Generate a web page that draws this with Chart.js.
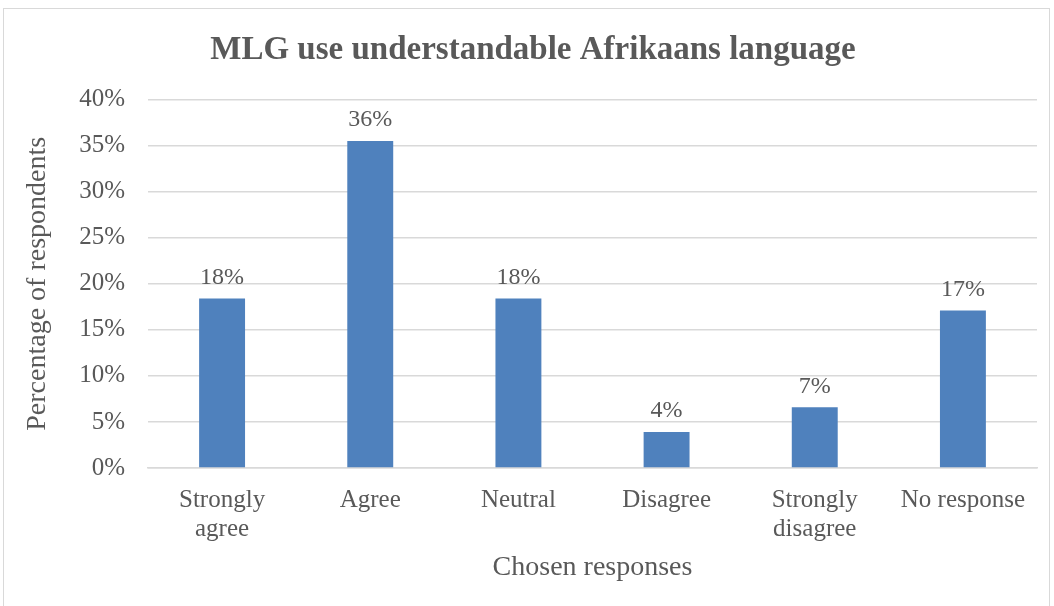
<!DOCTYPE html>
<html lang="en">
<head>
<meta charset="utf-8">
<title>MLG use understandable Afrikaans language</title>
<script src="https://cdn.jsdelivr.net/npm/chart.js@4.4.1/dist/chart.umd.min.js"></script>
<style>
  html, body { margin: 0; padding: 0; background: #fff; }
  .frame {
    position: absolute; left: 3px; top: 8px;
    width: 1047px; height: 600px;
    border: 1px solid #d9d9d9; box-sizing: border-box;
  }
  .frame canvas { display: block; }
</style>
</head>
<body>
<div class="frame"><canvas id="chart"></canvas></div>
<script>
// survey answers, share of respondents (%)
const categories = [["Strongly", "agree"], "Agree", "Neutral", "Disagree", ["Strongly", "disagree"], "No response"];
const shares = [18.4, 35.5, 18.4, 3.9, 6.6, 17.1];
const yTicks = [0, 5, 10, 15, 20, 25, 30, 35, 40];

const serif = "'Liberation Serif', 'DejaVu Serif', serif";
const grey = '#595959';

// writes the rounded value above each bar
const barLabels = {
  id: 'barLabels',
  afterDatasetsDraw(chart) {
    const ctx = chart.ctx;
    const meta = chart.getDatasetMeta(0);
    ctx.save();
    ctx.font = '24px ' + serif;
    ctx.fillStyle = grey;
    ctx.textAlign = 'center';
    ctx.textBaseline = 'bottom';
    meta.data.forEach((bar, i) => {
      ctx.fillText(Math.round(shares[i]) + '%', bar.x, bar.y - 9);
    });
    ctx.restore();
  }
};

new Chart(document.getElementById('chart'), {
  type: 'bar',
  data: {
    labels: categories,
    datasets: [{
      data: shares,
      backgroundColor: '#4f81bd',
      borderWidth: 0,
      barPercentage: 0.62,
      categoryPercentage: 0.5
    }]
  },
  options: {
    responsive: true,
    maintainAspectRatio: false,
    animation: false,
    layout: { padding: { left: 25, right: 12, top: 0, bottom: 0 } },
    plugins: {
      legend: { display: false },
      tooltip: { enabled: false },
      title: {
        display: true,
        text: 'MLG use understandable Afrikaans language',
        color: grey,
        font: { family: serif, size: 33, weight: 'bold', lineHeight: 1.2 },
        padding: { top: 22, bottom: 29 }
      }
    },
    scales: {
      x: {
        afterFit(scale) { scale.height = 139; },
        grid: { display: false },
        border: { color: '#d9d9d9', width: 1.5 },
        ticks: {
          color: grey,
          font: { family: serif, size: 25, lineHeight: 1.15 },
          maxRotation: 0,
          autoSkip: false,
          padding: 10
        },
        title: {
          display: true,
          text: 'Chosen responses',
          color: grey,
          font: { family: serif, size: 28, lineHeight: 1.2 },
          padding: { top: 0, bottom: 23 }
        }
      },
      y: {
        min: 0,
        max: 40,
        afterFit(scale) { scale.width = 119; },
        afterBuildTicks(scale) {
          scale.ticks = yTicks.map(v => ({ value: v }));
        },
        grid: { color: '#d9d9d9', lineWidth: 1.5, drawTicks: false },
        border: { display: false },
        ticks: {
          color: grey,
          font: { family: serif, size: 25 },
          padding: 23,
          callback: v => v + '%'
        },
        title: {
          display: true,
          text: 'Percentage of respondents',
          color: grey,
          font: { family: serif, size: 28, lineHeight: 1.2 },
          padding: { top: -8, bottom: 0 }
        }
      }
    }
  },
  plugins: [barLabels]
});
</script>
</body>
</html>
